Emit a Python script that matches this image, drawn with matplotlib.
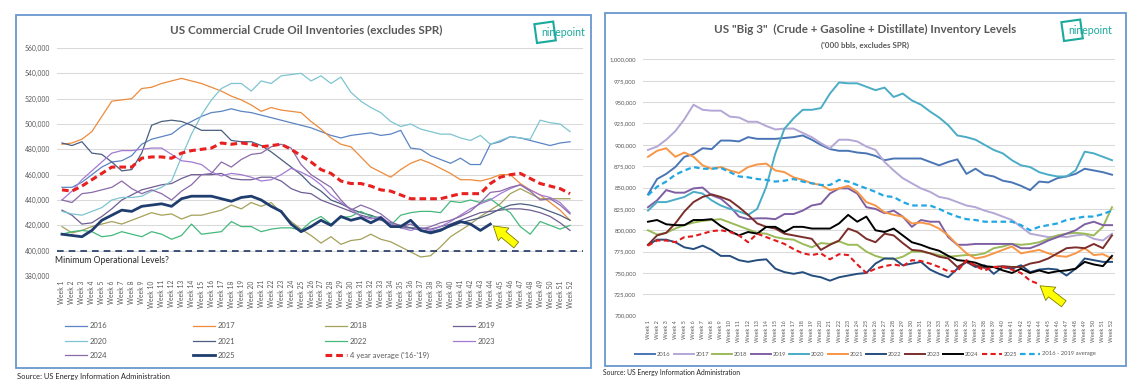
import matplotlib
matplotlib.use('Agg')
import matplotlib.pyplot as plt
from matplotlib.lines import Line2D
from matplotlib.patches import Rectangle
from matplotlib.transforms import IdentityTransform
from matplotlib.ticker import FuncFormatter

plt.rcParams['font.family'] = ['Lato', 'DejaVu Sans']

# ---- data ('000 bbls), weeks 1..52 ----
weeks = list(range(1, 53))
week_labels = ['Week %d' % w for w in weeks]

# left chart: US commercial crude oil inventories
crude_2016 = [450, 450, 454, 460, 466, 470, 471, 475, 484, 488, 490, 492, 498,
              502, 506, 509, 510, 512, 510, 509, 507, 505, 503, 501, 499, 497,
              494, 491, 489, 491, 492, 493, 491, 492, 495, 481, 480, 475, 472,
              469, 473, 468, 468, 484, 486, 490, 489, 487, 485, 483, 485, 486]
crude_2017 = [484, 485, 488, 494, 506, 518, 519, 520, 528, 529, 532, 534, 536,
              534, 532, 529, 526, 522, 519, 515, 510, 513, 511, 510, 509, 502,
              496, 489, 484, 482, 474, 466, 462, 458, 464, 469, 472, 469, 465,
              461, 456, 456, 455, 457, 460, 460, 453, 448, 444, 438, 432, 424]
crude_2018 = [419, 414, 416, 419, 421, 423, 421, 424, 427, 430, 428, 429, 425,
              428, 428, 430, 432, 436, 433, 438, 435, 438, 430, 423, 417, 412,
              406, 411, 405, 408, 409, 413, 409, 407, 403, 399, 395, 396, 403,
              411, 416, 421, 427, 432, 437, 445, 449, 445, 441, 441, 441, 441]
crude_2019 = [432, 428, 421, 422, 427, 433, 440, 444, 448, 450, 452, 453, 457,
              460, 460, 460, 461, 457, 456, 456, 458, 458, 455, 449, 446, 445,
              440, 437, 434, 431, 428, 426, 424, 422, 420, 418, 418, 417, 419,
              421, 424, 427, 430, 431, 432, 433, 433, 432, 430, 427, 422, 416]
crude_2020 = [431, 429, 428, 431, 434, 440, 442, 442, 443, 447, 450, 455, 474,
              492, 507, 519, 528, 532, 532, 526, 534, 532, 538, 539, 540, 534,
              538, 532, 537, 525, 518, 513, 509, 502, 498, 500, 496, 494, 492,
              492, 489, 487, 491, 484, 487, 490, 489, 488, 503, 501, 500, 494]
crude_2021 = [485, 483, 486, 477, 476, 470, 463, 464, 477, 499, 502, 503, 502,
              499, 495, 495, 495, 487, 486, 486, 483, 478, 472, 466, 460, 452,
              447, 440, 437, 433, 430, 428, 425, 421, 418, 418, 416, 415, 417,
              419, 422, 424, 426, 429, 433, 436, 437, 436, 434, 431, 428, 424]
crude_2022 = [413, 415, 416, 415, 411, 412, 415, 413, 411, 415, 413, 409, 412,
              421, 413, 414, 415, 423, 419, 419, 415, 417, 418, 418, 416, 423,
              427, 421, 426, 427, 431, 427, 426, 420, 428, 430, 431, 431, 430,
              439, 438, 440, 438, 441, 435, 430, 419, 413, 423, 420, 417, 420]
crude_2023 = [440, 447, 456, 463, 470, 477, 479, 479, 480, 481, 481, 476, 471,
              470, 468, 462, 459, 461, 460, 458, 455, 456, 460, 465, 462, 458,
              452, 444, 438, 433, 427, 425, 427, 421, 418, 416, 418, 416, 419,
              423, 428, 433, 437, 440, 445, 449, 452, 448, 444, 442, 438, 430]
crude_2024 = [440, 438, 445, 446, 448, 450, 455, 449, 445, 448, 445, 440, 447,
              452, 460, 461, 470, 466, 472, 476, 477, 482, 484, 481, 468, 460,
              455, 450, 440, 432, 436, 433, 429, 423, 419, 421, 417, 419, 422,
              424, 427, 431, 438, 446, 447, 450, 452, 447, 440, 441, 436, 429]
crude_2025 = [413, 412, 411, 416, 424, 428, 432, 431, 435, 436, 437, 435, 441,
              443, 443, 443, 441, 439, 442, 443, 440, 435, 431, 421, 415, 419,
              424, 420, 427, 424, 426, 422, 426, 419, 419, 424, 416, 414, 416,
              420, 423, 421, 416, 421]
crude_avg = [448, 447, 451, 456, 461, 466, 466, 466, 473, 474, 474, 473, 477,
             479, 480, 481, 485, 484, 485, 484, 482, 483, 484, 480, 475, 470,
             464, 461, 455, 453, 453, 451, 448, 447, 444, 441, 441, 441, 441,
             443, 445, 445, 445, 453, 458, 460, 461, 457, 453, 451, 449, 445]
min_operational = 400

# right chart: crude + gasoline + distillate
big3_2016 = [842, 860, 866, 874, 886, 889, 896, 895, 905, 905, 904, 909, 907,
             907, 907, 908, 909, 911, 906, 900, 895, 893, 893, 891, 890, 887,
             882, 884, 884, 884, 884, 880, 876, 880, 883, 866, 872, 865, 863,
             858, 856, 852, 847, 857, 856, 861, 863, 866, 872, 870, 868, 865]
big3_2017 = [894, 898, 906, 916, 930, 947, 941, 940, 940, 933, 932, 927, 927,
             922, 918, 919, 919, 914, 909, 902, 896, 906, 906, 904, 898, 894,
             880, 870, 861, 855, 849, 845, 839, 837, 833, 829, 827, 823, 820,
             816, 812, 804, 796, 794, 792, 793, 792, 794, 795, 790, 788, 796]
big3_2018 = [800, 795, 797, 802, 806, 809, 811, 812, 813, 809, 805, 801, 797,
             796, 792, 790, 789, 784, 780, 785, 784, 787, 783, 783, 775, 770,
             767, 766, 769, 775, 775, 773, 771, 769, 770, 771, 771, 773, 779,
             781, 784, 783, 784, 786, 790, 794, 796, 797, 796, 794, 804, 827]
big3_2019 = [827, 835, 847, 844, 844, 849, 850, 841, 837, 828, 816, 813, 814,
             814, 813, 819, 819, 823, 829, 831, 843, 849, 849, 843, 827, 825,
             820, 823, 816, 804, 812, 810, 810, 792, 783, 783, 784, 784, 784,
             784, 784, 779, 779, 783, 788, 792, 796, 800, 807, 810, 806, 806]
big3_2020 = [823, 833, 833, 836, 839, 845, 843, 835, 829, 825, 822, 818, 825,
             851, 890, 919, 931, 941, 941, 943, 960, 973, 972, 972, 968, 964,
             967, 956, 960, 952, 947, 939, 932, 923, 911, 909, 906, 900, 894,
             890, 882, 876, 874, 868, 865, 863, 863, 870, 892, 890, 886, 882]
big3_2021 = [886, 893, 896, 886, 891, 886, 876, 872, 874, 870, 867, 874, 877,
             878, 870, 868, 862, 859, 855, 853, 847, 849, 852, 845, 833, 829,
             821, 818, 816, 808, 809, 807, 802, 794, 783, 773, 767, 769, 773,
             777, 781, 773, 775, 777, 773, 770, 769, 773, 779, 771, 772, 767]
big3_2022 = [783, 789, 789, 786, 780, 778, 782, 777, 770, 770, 765, 763, 765,
             766, 755, 751, 749, 751, 747, 745, 741, 745, 747, 749, 750, 761,
             767, 767, 759, 761, 763, 754, 749, 745, 755, 763, 757, 759, 749,
             757, 755, 759, 751, 754, 755, 754, 747, 755, 767, 765, 763, 763]
big3_2023 = [783, 794, 797, 808, 822, 833, 839, 842, 839, 835, 827, 818, 808,
             804, 802, 796, 794, 792, 790, 777, 783, 788, 802, 798, 790, 786,
             796, 794, 785, 777, 776, 773, 769, 767, 757, 763, 759, 756, 757,
             758, 757, 757, 761, 763, 767, 773, 779, 780, 779, 784, 779, 794]
big3_2024 = [810, 812, 807, 806, 806, 812, 812, 813, 805, 799, 794, 798, 796,
             804, 804, 798, 804, 804, 802, 802, 802, 808, 818, 810, 816, 800,
             798, 802, 794, 786, 783, 779, 776, 770, 765, 764, 762, 758, 757,
             753, 750, 755, 750, 753, 750, 752, 753, 755, 763, 760, 758, 770]
big3_2025 = [782, 788, 788, 786, 792, 793, 796, 799, 800, 798, 794, 786, 796,
             792, 788, 784, 778, 773, 771, 773, 766, 772, 771, 760, 750, 755,
             758, 760, 758, 765, 764, 761, 757, 752, 752, 765, 758, 753, 757,
             757, 754, 750, 741, 737]
big3_avg = [841, 851, 857, 865, 870, 874, 872, 872, 873, 868, 863, 862, 860,
            859, 857, 858, 860, 857, 855, 853, 853, 859, 857, 853, 849, 845,
            840, 839, 833, 829, 829, 829, 825, 820, 816, 813, 812, 810, 810,
            810, 810, 806, 800, 804, 806, 808, 812, 814, 816, 816, 819, 823]

W, H = 1133, 385
fig = plt.figure(figsize=(W / 100, H / 100), dpi=100)
fig.patch.set_facecolor('white')


def fx(px):
    return px / W


def fy(py):
    return 1 - py / H


def thousands(v, pos):
    return '{:,}'.format(int(round(v * 1000)))


txt = '#595959'
grid = '#d9d9d9'
teal = '#1aa99c'


def style_axes(ax, ylo, yhi, step, xfs, yfs):
    ax.set_ylim(ylo, yhi)
    ax.set_yticks(range(ylo, yhi + 1, step))
    ax.yaxis.set_major_formatter(FuncFormatter(thousands))
    ax.set_xticks(weeks)
    ax.set_xticklabels(week_labels, rotation=90, fontsize=xfs, color=txt)
    ax.tick_params(axis='y', labelsize=yfs, labelcolor=txt, length=0, pad=5)
    ax.tick_params(axis='x', length=0, pad=3)
    ax.grid(axis='y', color=grid, lw=0.75)
    ax.set_axisbelow(True)
    for s in ax.spines.values():
        s.set_visible(False)


# ---------------- left chart ----------------
ax1 = fig.add_axes([fx(57), fy(276), (583 - 57) / W, (276 - 48) / H])
left_series = [
    ('2016', crude_2016, '#5b84c4', 0.9, '-'),
    ('2017', crude_2017, '#ed8b3c', 0.9, '-'),
    ('2018', crude_2018, '#a5a05a', 0.9, '-'),
    ('2019', crude_2019, '#6f5e94', 0.9, '-'),
    ('2020', crude_2020, '#7ec4d1', 0.9, '-'),
    ('2021', crude_2021, '#4a5e7e', 0.9, '-'),
    ('2022', crude_2022, '#45b97c', 0.9, '-'),
    ('2023', crude_2023, '#a37ad2', 0.9, '-'),
    ('2024', crude_2024, '#8a6aa8', 0.9, '-'),
    ('2025', crude_2025, '#1f3d6e', 2.0, '-'),
    ("4 year average ('16-'19)", crude_avg, '#e8201f', 2.2, (0, (2.2, 1.3))),
]
for name, vals, c, lw, ls in left_series:
    ax1.plot(weeks[:len(vals)], vals, color=c, lw=lw, ls=ls)
ax1.axhline(min_operational, color='#1f3864', lw=1.2, ls=(0, (4, 3)))
ax1.set_xlim(0.5, 53.3)
style_axes(ax1, 380, 560, 20, 4.9, 4.9)
ax1.text(0.3, 392.5, 'Minimum Operational Levels?', fontsize=6.2, color='#262626',
         va='center', ha='left', clip_on=False)
ax1.annotate('', xy=(44.3, 419.5), xytext=(46.6, 404.5),
             arrowprops=dict(arrowstyle='simple,head_length=0.8,head_width=1.0,tail_width=0.45',
                             fc='#ffff00', ec='#7f7f00', lw=0.6, shrinkA=0, shrinkB=0,
                             mutation_scale=12))

fig.text(fx(306), fy(30), 'US Commercial Crude Oil Inventories (excludes SPR)',
         fontsize=8.4, fontweight='bold', color=txt, ha='center', va='center')

# left legend, 3 rows x 4 columns
cols_x = [65, 193, 325, 453]
rows_y = [326, 341, 355]
for i, (name, vals, c, lw, ls) in enumerate(left_series):
    r, k = divmod(i, 4)
    x0, y0 = cols_x[k], rows_y[r]
    fig.add_artist(Line2D([fx(x0), fx(x0 + 22)], [fy(y0), fy(y0)], color=c,
                          lw=lw, ls=ls, transform=fig.transFigure))
    fig.text(fx(x0 + 25), fy(y0), name, fontsize=5.5, color=txt, va='center')

fig.text(fx(17), fy(376), 'Source: US Energy Information Administration',
         fontsize=5.4, color='#262626', va='center')

# ---------------- right chart ----------------
ax2 = fig.add_axes([fx(643), fy(315.7), (1115 - 643) / W, (315.7 - 59.4) / H])
right_series = [
    ('2016', big3_2016, '#4a75b5', 1.4, '-'),
    ('2017', big3_2017, '#b4a7d6', 1.4, '-'),
    ('2018', big3_2018, '#9bbb59', 1.4, '-'),
    ('2019', big3_2019, '#7f5fa3', 1.4, '-'),
    ('2020', big3_2020, '#4bacc6', 1.4, '-'),
    ('2021', big3_2021, '#f79646', 1.4, '-'),
    ('2022', big3_2022, '#254e7e', 1.4, '-'),
    ('2023', big3_2023, '#7b2e2b', 1.4, '-'),
    ('2024', big3_2024, '#000000', 1.4, '-'),
    ('2025', big3_2025, '#e31a1c', 1.5, (0, (2.5, 1.6))),
    ('2016 - 2019 average', big3_avg, '#22a7e3', 1.6, (0, (2.5, 1.6))),
]
for name, vals, c, lw, ls in right_series:
    ax2.plot(weeks[:len(vals)], vals, color=c, lw=lw, ls=ls)
ax2.set_xlim(0.45, 52.33)
style_axes(ax2, 700, 1000, 25, 4.0, 4.3)
ax2.annotate('', xy=(44.1, 735), xytext=(46.7, 714),
             arrowprops=dict(arrowstyle='simple,head_length=0.8,head_width=1.0,tail_width=0.45',
                             fc='#ffff00', ec='#7f7f00', lw=0.6, shrinkA=0, shrinkB=0,
                             mutation_scale=12))

fig.text(fx(865), fy(29), 'US "Big 3"  (Crude + Gasoline + Distillate) Inventory Levels',
         fontsize=8.4, fontweight='bold', color=txt, ha='center', va='center')
fig.text(fx(865), fy(45), "('000 bbls, excludes SPR)",
         fontsize=5.8, fontweight='bold', color=txt, ha='center', va='center')

for i, (name, vals, c, lw, ls) in enumerate(right_series):
    tx = 657 + i * 38.5
    fig.add_artist(Line2D([fx(tx - 22), fx(tx - 2)], [fy(354), fy(354)], color=c,
                          lw=lw, ls=ls, transform=fig.transFigure))
    fig.text(fx(tx), fy(354), name, fontsize=4.2, color=txt, va='center')

fig.text(fx(603), fy(373), 'Source: US Energy Information Administration',
         fontsize=4.9, color='#262626', va='center')

# ---------------- frames and logos ----------------
for x0, y0, x1, y1 in [(16, 15, 591, 368), (605, 13, 1126, 366)]:
    fig.add_artist(Rectangle((x0, H - y1), x1 - x0, y1 - y0, fill=False,
                             ec='#6a97cf', lw=1.3, transform=IdentityTransform()))

# (box left x, box bottom y, text x, text y) in image pixels
for bx, by, tx, ty in [(537, 43, 541, 33), (1064, 41, 1068, 30)]:
    fig.add_artist(Rectangle((bx, H - by), 19, 19, angle=8, fill=False,
                             ec=teal, lw=1.5, transform=IdentityTransform()))
    fig.text(fx(tx), fy(ty), 'ninepoint', fontsize=7.6, color=teal, va='center')

fig.savefig('out.png', dpi=100, facecolor='white')
